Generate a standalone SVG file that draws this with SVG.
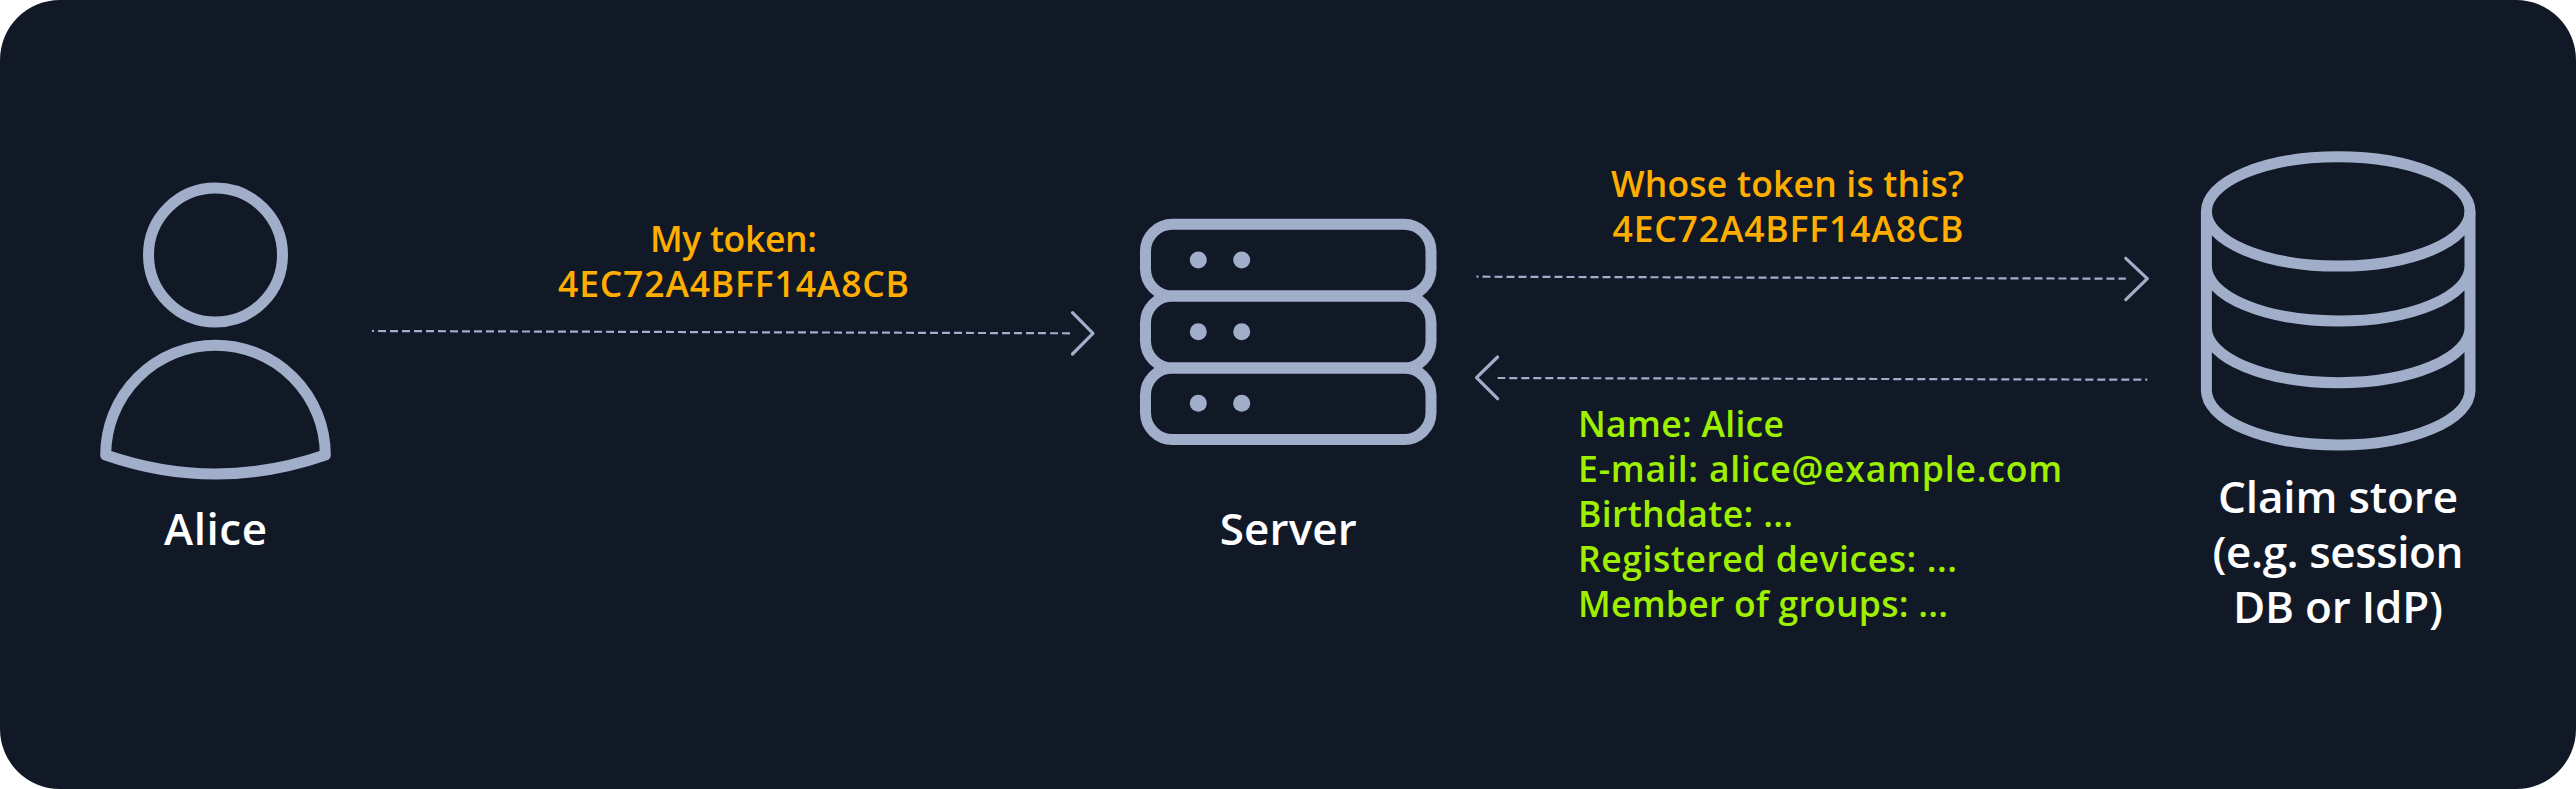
<svg xmlns="http://www.w3.org/2000/svg" width="2576" height="789" viewBox="0 0 2576 789">
<style>
text{font-family:"Open Sans","Noto Sans",sans-serif;font-weight:550}
.ic{fill:none;stroke:#a0aeca;stroke-width:11;stroke-linejoin:round}
.dot{fill:#a0aeca}
.lbl{fill:#fff;font-size:44px;text-anchor:middle}
.or{fill:#ffae00;font-size:35.5px}
.gr{fill:#9eef00;font-size:35.5px}
.ln{fill:none;stroke:#a0aeca;stroke-width:2.2;stroke-dasharray:8 4;stroke-dashoffset:6}
.hd{fill:none;stroke:#a0aeca;stroke-width:3.2;stroke-linecap:round;stroke-linejoin:round}
</style>
<rect width="2576" height="789" fill="#fff"/>
<rect id="background" width="2576" height="789" rx="60" fill="#111927"/>
<g id="alice">
<circle class="ic" cx="215.5" cy="255" r="67"/>
<path class="ic" d="M105.7 455A109.8 109.8 0 0 1 325.3 455Q215.5 493 105.7 455Z"/>
<text class="lbl" x="215.5" y="544.5" textLength="103">Alice</text>
</g>
<g id="server">
<rect class="ic" x="1145.5" y="224.3" width="285.5" height="71.7" rx="27"/>
<rect class="ic" x="1145.5" y="296" width="285.5" height="72" rx="27"/>
<rect class="ic" x="1145.5" y="368" width="285.5" height="71.5" rx="27"/>
<circle class="dot" cx="1198.3" cy="260" r="8.5"/><circle class="dot" cx="1241.7" cy="260" r="8.5"/>
<circle class="dot" cx="1198.3" cy="331.7" r="8.5"/><circle class="dot" cx="1241.7" cy="331.7" r="8.5"/>
<circle class="dot" cx="1198.3" cy="403.3" r="8.5"/><circle class="dot" cx="1241.7" cy="403.3" r="8.5"/>
<text class="lbl" x="1288.3" y="544.5" textLength="137">Server</text>
</g>
<g id="claim-store">
<ellipse class="ic" cx="2338.2" cy="211.4" rx="131.8" ry="54.7"/>
<path class="ic" d="M2206.4 211.4V390.3A131.8 54.7 0 0 0 2470 390.3V211.4M2206.4 266.3A131.8 54.7 0 0 0 2470 266.3M2206.4 328A131.8 54.7 0 0 0 2470 328"/>
<text class="lbl" x="2338" y="512.8" textLength="240">Claim store</text>
<text class="lbl" x="2338" y="568.2" textLength="251">(e.g. session</text>
<text class="lbl" x="2338" y="623.2" textLength="210">DB or IdP)</text>
</g>
<g id="connectors">
<path class="ln" d="M372 331L1072.5 333.3"/>
<path class="hd" d="M1072.5 312.7L1093 333.3L1072.5 354"/>
<path class="ln" d="M1476.5 276.7L2125.8 278.7"/>
<path class="hd" d="M2125.8 258.3L2147.3 278.7L2125.8 299.7"/>
<path class="ln" d="M2147.3 379.7L1497.6 378"/>
<path class="hd" d="M1497.6 357L1476.5 377.7L1497.6 398.7"/>
</g>
<g id="token-label">
<text class="or" x="650" y="251.7" textLength="167">My token:</text>
<text class="or" x="558" y="296.7" textLength="351">4EC72A4BFF14A8CB</text>
</g>
<g id="query-label">
<text class="or" x="1611" y="196.7" textLength="353">Whose token is this?</text>
<text class="or" x="1612.5" y="241.7" textLength="351">4EC72A4BFF14A8CB</text>
</g>
<g id="claims-label">
<text class="gr" x="1578" y="436.7" textLength="206">Name: Alice</text>
<text class="gr" x="1578" y="481.7" textLength="484">E-mail: alice@example.com</text>
<text class="gr" x="1578" y="526.7" textLength="215">Birthdate: ...</text>
<text class="gr" x="1578" y="572.3" textLength="379">Registered devices: ...</text>
<text class="gr" x="1578" y="617.3" textLength="370">Member of groups: ...</text>
</g>
</svg>
